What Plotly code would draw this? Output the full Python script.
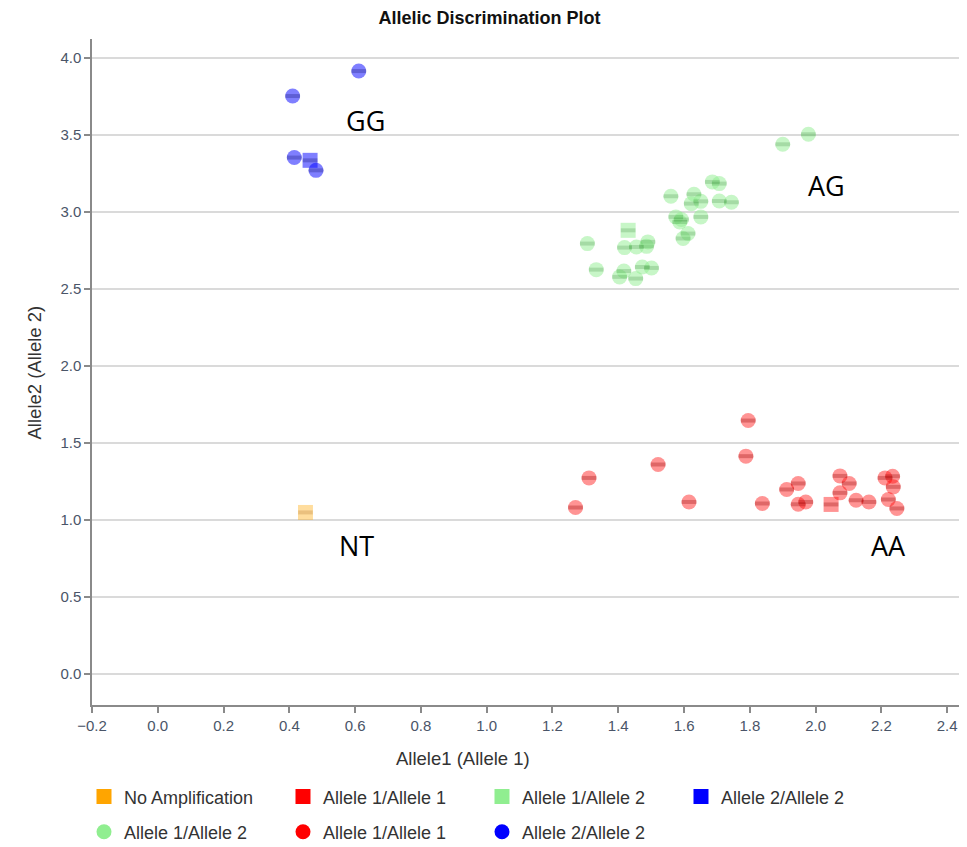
import plotly.graph_objects as go

# ---- data (Allele1 = x, Allele2 = y) ----
# circles
aa_circle_x = [1.311, 1.270, 1.521, 1.615, 1.795, 1.788, 1.838, 1.912, 1.947, 1.947, 1.970,
               2.074, 2.102, 2.074, 2.123, 2.162, 2.211, 2.234, 2.236, 2.221, 2.247]
aa_circle_y = [1.273, 1.081, 1.360, 1.117, 1.645, 1.414, 1.107, 1.198, 1.237, 1.102, 1.117,
               1.286, 1.237, 1.176, 1.128, 1.117, 1.273, 1.284, 1.215, 1.133, 1.075]
ag_circle_x = [1.900, 1.978, 1.686, 1.707, 1.560, 1.630, 1.622, 1.651, 1.707, 1.744, 1.575,
               1.592, 1.587, 1.651, 1.612, 1.597, 1.306, 1.419, 1.455, 1.490, 1.486, 1.333,
               1.417, 1.404, 1.453, 1.473, 1.501]
ag_circle_y = [3.437, 3.502, 3.193, 3.182, 3.100, 3.113, 3.052, 3.067, 3.069, 3.061, 2.966,
               2.949, 2.933, 2.966, 2.858, 2.826, 2.793, 2.767, 2.771, 2.804, 2.775, 2.624,
               2.615, 2.577, 2.566, 2.641, 2.635]
gg_circle_x = [0.611, 0.410, 0.415, 0.481]
gg_circle_y = [3.912, 3.750, 3.351, 3.268]
# squares
nt_square_x = [0.449]
nt_square_y = [1.049]
aa_square_x = [2.047]
aa_square_y = [1.101]
ag_square_x = [1.430]
ag_square_y = [2.879]
gg_square_x = [0.463]
gg_square_y = [3.333]

square_names = ["No Amplification", "Allele 1/Allele 1", "Allele 1/Allele 2", "Allele 2/Allele 2"]
circle_names = ["Allele 1/Allele 2", "Allele 1/Allele 1", "Allele 2/Allele 2"]

cluster_labels = ["GG", "AG", "NT", "AA"]
cluster_label_x = [0.632, 2.032, 0.604, 2.221]
cluster_label_y = [3.593, 3.171, 0.837, 0.837]

x_ticks = [-0.2, 0.0, 0.2, 0.4, 0.6, 0.8, 1.0, 1.2, 1.4, 1.6, 1.8, 2.0, 2.2, 2.4]
y_ticks = [0.0, 0.5, 1.0, 1.5, 2.0, 2.5, 3.0, 3.5, 4.0]

# ---- styles ----
ORANGE, RED, GREEN, BLUE = "#ffa500", "#ff0000", "#90ee90", "#0000ff"
fill = {ORANGE: "rgba(255,165,0,0.38)", RED: "rgba(255,0,0,0.42)",
        GREEN: "rgba(144,238,144,0.5)", BLUE: "rgba(0,0,255,0.5)"}
band = {ORANGE: "rgba(150,80,0,0.2)", RED: "rgba(150,0,0,0.3)",
        GREEN: "rgba(0,90,0,0.17)", BLUE: "rgba(0,0,90,0.25)"}
MS = 15
FONT = "Liberation Sans, Arial, sans-serif"

fig = go.Figure()

squares = [(nt_square_x, nt_square_y, ORANGE), (aa_square_x, aa_square_y, RED),
           (ag_square_x, ag_square_y, GREEN), (gg_square_x, gg_square_y, BLUE)]
circles = [(ag_circle_x, ag_circle_y, GREEN), (aa_circle_x, aa_circle_y, RED),
           (gg_circle_x, gg_circle_y, BLUE)]

for xs, ys, c in squares:
    fig.add_trace(go.Scatter(x=xs, y=ys, mode="markers", showlegend=False, hoverinfo="x+y",
                             marker=dict(symbol="square", size=MS, color=fill[c], line=dict(width=0))))
for xs, ys, c in circles:
    fig.add_trace(go.Scatter(x=xs, y=ys, mode="markers", showlegend=False, hoverinfo="x+y",
                             marker=dict(symbol="circle", size=MS, color=fill[c], line=dict(width=0))))
# darker mid band on every marker
for xs, ys, c in squares + circles:
    fig.add_trace(go.Scatter(x=xs, y=ys, mode="markers", showlegend=False, hoverinfo="skip",
                             marker=dict(symbol="line-ew", size=10.5,
                                         line=dict(width=4, color=band[c]))))

# legend entries
for name, c in zip(square_names, [ORANGE, RED, GREEN, BLUE]):
    fig.add_trace(go.Scatter(x=[None], y=[None], mode="markers", name=name, legend="legend",
                             marker=dict(symbol="square", size=15, color=c)))
for name, c in zip(circle_names, [GREEN, RED, BLUE]):
    fig.add_trace(go.Scatter(x=[None], y=[None], mode="markers", name=name, legend="legend2",
                             marker=dict(symbol="circle", size=15, color=c)))

for t, lx, ly in zip(cluster_labels, cluster_label_x, cluster_label_y):
    fig.add_annotation(x=lx, y=ly, xref="x", yref="y", text=t, showarrow=False,
                       font=dict(family="Open Sans, Noto Sans, sans-serif", size=27, color="#000"))

fig.add_annotation(x=0.4264, y=-0.0796, xref="paper", yref="paper", text="Allele1 (Allele 1)",
                   showarrow=False, yanchor="middle",
                   font=dict(family=FONT, size=18.5, color="#333"))
fig.add_annotation(x=-0.0805, y=0.5, xref="paper", yref="paper", text="Allele2 (Allele 2)",
                   showarrow=False, textangle=-90,
                   font=dict(family=FONT, size=18.5, color="#333"))

XR = [-0.2, 2.445]
YR = [-0.2, 4.12]
tickfont = dict(family=FONT, size=15, color="#4a5568")
legfont = dict(family=FONT, size=18, color="#333")

# the page adds an 8px body margin; the figure is shifted by 8px and its last pixels fall outside the window
fig.update_layout(
    width=959, height=847,
    margin=dict(l=84, r=5, t=31, b=150),
    paper_bgcolor="white", plot_bgcolor="white",
    title=dict(text="<b>Allelic Discrimination Plot</b>", x=0.502, xanchor="center",
               y=1 - 10 / 847, yanchor="middle",
               font=dict(family=FONT, size=18, color="#111")),
    xaxis=dict(range=XR, tickmode="array", tickvals=x_ticks, tickformat=".1f",
               showgrid=False, zeroline=False, showline=True, linecolor="#8a8a8a", linewidth=1.5,
               ticks="outside", ticklen=6, tickwidth=1.5, tickcolor="#8a8a8a", tickfont=tickfont),
    xaxis2=dict(range=XR, overlaying="x", anchor="y", tick0=0, dtick=0.5, showgrid=True,
                gridcolor="#dadada", gridwidth=1.5, showticklabels=False, ticks="",
                zeroline=False, showline=False),
    yaxis=dict(range=YR, tickmode="array", tickvals=y_ticks, tickformat=".1f",
               showgrid=True, gridcolor="#dadada", gridwidth=1.5, zeroline=False,
               showline=True, linecolor="#8a8a8a", linewidth=1.5,
               ticks="outside", ticklen=6, tickwidth=1.5, tickcolor="#8a8a8a", tickfont=tickfont),
    legend=dict(orientation="h", x=-0.0092, xanchor="left", y=-0.138, yanchor="middle",
                entrywidth=154, entrywidthmode="pixels", font=legfont, bgcolor="rgba(0,0,0,0)",
                itemsizing="trace"),
    legend2=dict(orientation="h", x=-0.0092, xanchor="left", y=-0.1907, yanchor="middle",
                 entrywidth=154, entrywidthmode="pixels", font=legfont, bgcolor="rgba(0,0,0,0)",
                 itemsizing="trace"),
)

fig.write_html("out.html")
